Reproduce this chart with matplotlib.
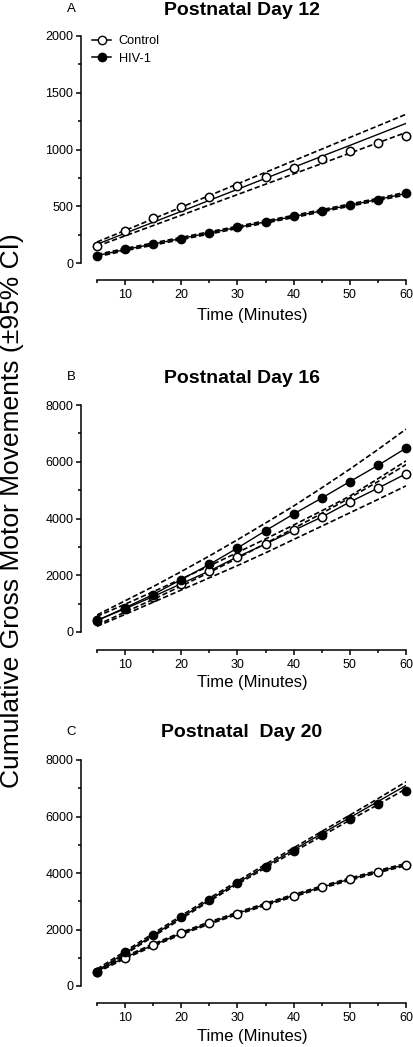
import matplotlib
matplotlib.use('Agg')
from matplotlib import pyplot as plt
from matplotlib.lines import Line2D
from matplotlib.ticker import MultipleLocator

plt.rcParams['font.family'] = ['Liberation Sans', 'DejaVu Sans']

# time points (minutes)
time = [5, 10, 15, 20, 25, 30, 35, 40, 45, 50, 55, 60]

# Panel A - postnatal day 12
ctrl_a = [150, 285, 395, 490, 585, 675, 755, 835, 915, 985, 1055, 1120]
hiv_a = [65, 120, 165, 215, 265, 315, 360, 410, 455, 510, 555, 615]
ctrl_a_fit = [165, 262, 359, 455, 552, 649, 746, 843, 940, 1036, 1133, 1230]
ctrl_a_hi = [185, 287, 389, 492, 594, 697, 799, 901, 1003, 1106, 1208, 1310]
ctrl_a_lo = [148, 239, 330, 421, 512, 603, 694, 785, 876, 968, 1059, 1150]
hiv_a_fit = [65, 118, 167, 216, 265, 314, 362, 410, 460, 510, 560, 612]
hiv_a_hi = [75, 128, 177, 226, 275, 324, 372, 420, 470, 520, 570, 624]
hiv_a_lo = [55, 108, 157, 206, 255, 304, 352, 400, 450, 500, 550, 600]

# Panel B - postnatal day 16
ctrl_b = [410, 820, 1250, 1700, 2150, 2650, 3100, 3580, 4050, 4580, 5070, 5575]
hiv_b = [400, 855, 1320, 1850, 2380, 2960, 3570, 4160, 4720, 5300, 5870, 6480]
ctrl_b_fit = ctrl_b
hiv_b_fit = hiv_b
hiv_b_hi = [600, 1100, 1600, 2130, 2680, 3250, 3840, 4440, 5080, 5740, 6430, 7150]
hiv_b_lo = [250, 700, 1150, 1620, 2100, 2600, 3120, 3650, 4180, 4730, 5300, 5900]
ctrl_b_hi = [550, 980, 1420, 1870, 2330, 2800, 3280, 3770, 4270, 4790, 5400, 6030]
ctrl_b_lo = [200, 620, 1050, 1480, 1910, 2340, 2790, 3260, 3730, 4200, 4670, 5150]

# Panel C - postnatal day 20
ctrl_c = [510, 1000, 1450, 1870, 2225, 2565, 2880, 3200, 3505, 3775, 4045, 4280]
hiv_c = [510, 1190, 1810, 2460, 3045, 3635, 4225, 4775, 5330, 5895, 6445, 6905]
ctrl_c_fit = [520, 1010, 1450, 1860, 2230, 2570, 2890, 3200, 3500, 3780, 4050, 4300]
ctrl_c_hi = [560, 1050, 1490, 1900, 2270, 2610, 2930, 3240, 3540, 3820, 4090, 4340]
ctrl_c_lo = [480, 970, 1410, 1820, 2190, 2530, 2850, 3160, 3460, 3740, 4010, 4260]
hiv_c_fit = [540, 1170, 1800, 2430, 3050, 3650, 4240, 4820, 5390, 5960, 6530, 7100]
hiv_c_hi = [600, 1230, 1860, 2490, 3110, 3710, 4310, 4890, 5470, 6050, 6630, 7230]
hiv_c_lo = [490, 1120, 1750, 2380, 3000, 3600, 4180, 4750, 5310, 5870, 6420, 6980]

titles = ['Postnatal Day 12', 'Postnatal Day 16', 'Postnatal  Day 20']
letters = ['A', 'B', 'C']

W, H = 414, 1047
fig = plt.figure(figsize=(W / 100, H / 100), dpi=100)

# axes boxes in pixels: (top of y range, bottom of y range, x-axis offset)
boxes = [(36, 263, 17), (405, 632, 18), (760, 986, 17)]
title_base = [15, 383, 737]
letter_base = [12, 380, 735]
xlabel_y = [315, 683, 1037]

panels = [
    (ctrl_a, hiv_a, ctrl_a_fit, hiv_a_fit, ctrl_a_lo, ctrl_a_hi, hiv_a_lo, hiv_a_hi, 2000, 500, 250),
    (ctrl_b, hiv_b, ctrl_b_fit, hiv_b_fit, ctrl_b_lo, ctrl_b_hi, hiv_b_lo, hiv_b_hi, 8000, 2000, 1000),
    (ctrl_c, hiv_c, ctrl_c_fit, hiv_c_fit, ctrl_c_lo, ctrl_c_hi, hiv_c_lo, hiv_c_hi, 8000, 2000, 1000),
]

dash = (0, (3.2, 1.6))
for i, (ctrl, hiv, cfit, hfit, clo, chi, hlo, hhi, ymax, ymaj, ymin) in enumerate(panels):
    top, bot, off = boxes[i]
    ax = fig.add_axes([97 / W, 1 - bot / H, 309 / W, (bot - top) / H])
    for s in ['top', 'right']:
        ax.spines[s].set_visible(False)
    ax.spines['left'].set_position(('outward', 16 * 0.72))
    ax.spines['bottom'].set_position(('outward', off * 0.72))
    for s in ['left', 'bottom']:
        ax.spines[s].set_linewidth(1.1)
    ax.set_xlim(5, 60)
    ax.set_ylim(0, ymax)
    ax.xaxis.set_major_locator(MultipleLocator(10))
    ax.xaxis.set_minor_locator(MultipleLocator(5))
    ax.yaxis.set_major_locator(MultipleLocator(ymaj))
    ax.yaxis.set_minor_locator(MultipleLocator(ymin))
    ax.tick_params(which='major', length=3.5, width=1.1, labelsize=9, pad=2, colors='black')
    ax.tick_params(which='minor', length=2.5, width=1.1)
    ax.tick_params(axis='x', which='major', pad=3)

    # confidence bands
    for band in [chi, clo, hhi, hlo]:
        ax.plot(time, band, color='black', lw=1.2, linestyle=dash, zorder=2)
    # fits
    ax.plot(time, cfit, color='black', lw=1.0, zorder=3)
    ax.plot(time, hfit, color='black', lw=1.0, zorder=3)
    # data points
    ax.plot(time, ctrl, 'o', ms=6, mfc='white', mec='black', mew=1.1, zorder=4, clip_on=False)
    ax.plot(time, hiv, 'o', ms=6, mfc='black', mec='black', zorder=4, clip_on=False)

    fig.text(242 / W, 1 - title_base[i] / H, titles[i], ha='center', va='baseline',
             fontsize=14, fontweight='bold')
    fig.text(71 / W, 1 - letter_base[i] / H, letters[i], ha='center', va='baseline', fontsize=9.5)
    fig.text(252 / W, 1 - xlabel_y[i] / H, 'Time (Minutes)', ha='center', va='center', fontsize=12)

    if i == 0:
        handles = [
            Line2D([], [], color='black', lw=1.1, marker='o', ms=6, mfc='white', mec='black'),
            Line2D([], [], color='black', lw=1.1, marker='o', ms=6, mfc='black', mec='black'),
        ]
        ax.legend(handles, ['Control', 'HIV-1'], loc='upper left',
                  bbox_to_anchor=(92 / W, 1 - 35 / H), bbox_transform=fig.transFigure,
                  frameon=False, fontsize=9.2, handlelength=1.5, handletextpad=0.6,
                  labelspacing=0.45, borderpad=0, borderaxespad=0)

fig.text(12 / W, 1 - 511 / H, 'Cumulative Gross Motor Movements (\u00b195% CI)',
         rotation=90, ha='center', va='center', fontsize=19)

plt.savefig('out.png', dpi=100)
